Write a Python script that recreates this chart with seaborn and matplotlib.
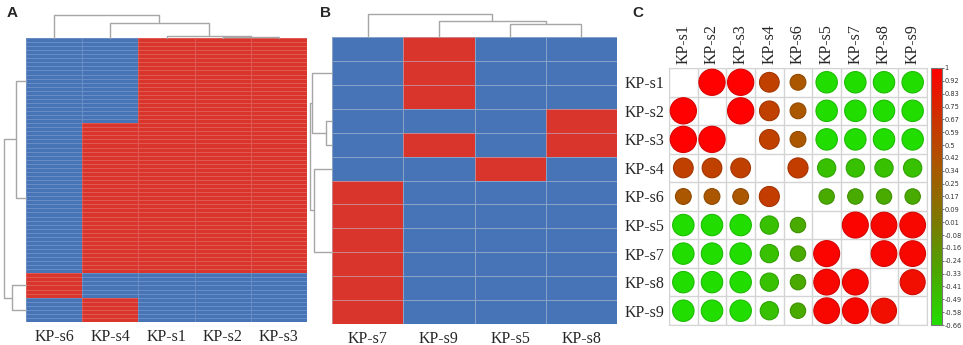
import numpy as np
import pandas as pd
import matplotlib.pyplot as plt
import seaborn as sns
from matplotlib.colors import ListedColormap, LinearSegmentedColormap, Normalize
from matplotlib.cm import ScalarMappable

sns.set_style('white')
plt.rcParams['font.family'] = ['Liberation Serif', 'DejaVu Serif']

# Panel A: binary presence matrix, rows grouped by identical pattern
a_cols = ['KP-s6', 'KP-s4', 'KP-s1', 'KP-s2', 'KP-s3']
a_group_rows = [[0, 0, 1, 1, 1],
                [0, 1, 1, 1, 1],
                [1, 0, 0, 0, 0],
                [0, 1, 0, 0, 0]]
a_group_sizes = [21, 37, 6, 6]
# dendrograms as nested (left, right, height)
a_col_tree = (0, (1, (2, (3, 4, 0.3), 0.6), 5.2), 8.0)
a_row_tree = ((0, 1, 1.0), (2, 3, 1.41), 2.24)

# Panel B
b_cols = ['KP-s7', 'KP-s9', 'KP-s5', 'KP-s8']
b_group_rows = [[0, 1, 0, 0],
                [0, 0, 0, 1],
                [0, 1, 0, 1],
                [0, 0, 1, 0],
                [1, 0, 0, 0]]
b_group_sizes = [3, 1, 1, 1, 6]
b_col_tree = (0, (1, (2, 3, 1.73), 2.24), 3.16)
b_row_tree = ((0, (1, 2, 0.5), 1.57), (3, 4, 1.4), 1.73)

# Panel C: correlation matrix
c_labels = ['KP-s1', 'KP-s2', 'KP-s3', 'KP-s4', 'KP-s6', 'KP-s5', 'KP-s7', 'KP-s8', 'KP-s9']
c_corr = [
    [1.00, 0.99, 0.99, 0.56, 0.36, -0.66, -0.66, -0.66, -0.66],
    [0.99, 1.00, 0.99, 0.56, 0.36, -0.66, -0.66, -0.66, -0.66],
    [0.99, 0.99, 1.00, 0.56, 0.36, -0.66, -0.66, -0.66, -0.66],
    [0.56, 0.56, 0.56, 1.00, 0.58, -0.48, -0.48, -0.48, -0.48],
    [0.36, 0.36, 0.36, 0.58, 1.00, -0.34, -0.34, -0.34, -0.34],
    [-0.66, -0.66, -0.66, -0.48, -0.34, 1.00, 0.97, 0.95, 0.95],
    [-0.66, -0.66, -0.66, -0.48, -0.34, 0.97, 1.00, 0.95, 0.95],
    [-0.66, -0.66, -0.66, -0.48, -0.34, 0.95, 0.95, 1.00, 0.90],
    [-0.66, -0.66, -0.66, -0.48, -0.34, 0.95, 0.95, 0.90, 1.00],
]
cbar_labels = ['-0.66', '-0.58', '-0.49', '-0.41', '-0.33', '-0.24', '-0.16', '-0.08',
               '0.01', '0.09', '0.17', '0.25', '0.34', '0.42', '0.5', '0.59', '0.67',
               '0.75', '0.83', '0.92', '1']

blue = '#4674b6'
red = '#d9352c'
dendro_color = '#a6a6a6'
W, H = 963, 345

fig = plt.figure(figsize=(W / 100, H / 100), dpi=100)


def rect(x0, y0, x1, y1):
    # pixel box (top-left origin) -> figure fraction
    return [x0 / W, 1 - y1 / H, (x1 - x0) / W, (y1 - y0) / H]


def draw_tree(ax, node, leaf_pos, top):
    if not isinstance(node, tuple):
        return leaf_pos[node], 0.0
    left, right, h = node
    pl, hl = draw_tree(ax, left, leaf_pos, top)
    pr, hr = draw_tree(ax, right, leaf_pos, top)
    p = [pl, pl, pr, pr]
    q = [hl, h, h, hr]
    if top:
        ax.plot(p, q, color=dendro_color, lw=1, clip_on=False)
    else:
        ax.plot(q, p, color=dendro_color, lw=1, clip_on=False)
    return (pl + pr) / 2, h


def clustered_heatmap(box, cols, group_rows, group_sizes, col_tree, row_tree,
                      lw, lc, dendro_w=22, dendro_h=23):
    x0, y0, x1, y1 = box
    data = pd.DataFrame(np.repeat(np.array(group_rows), group_sizes, axis=0), columns=cols)
    n_rows = len(data)
    ax = fig.add_axes(rect(x0, y0, x1, y1))
    sns.heatmap(data, ax=ax, cmap=ListedColormap([blue, red]), vmin=0, vmax=1,
                cbar=False, linewidths=lw, linecolor=lc,
                xticklabels=cols, yticklabels=False)
    ax.tick_params(axis='x', length=0, pad=5, labelsize=11.5, rotation=0)

    # column dendrogram
    axc = fig.add_axes(rect(x0, y0 - dendro_h, x1, y0))
    col_pos = np.arange(len(cols)) + 0.5
    draw_tree(axc, col_tree, col_pos, top=True)
    axc.set_xlim(0, len(cols))
    axc.set_ylim(0, col_tree[2])
    axc.axis('off')

    # row dendrogram
    axr = fig.add_axes(rect(x0 - dendro_w, y0, x0, y1))
    sizes = np.array(group_sizes)
    row_pos = np.cumsum(sizes) - sizes / 2
    draw_tree(axr, row_tree, row_pos, top=False)
    axr.set_xlim(row_tree[2], 0)
    axr.set_ylim(n_rows, 0)
    axr.axis('off')


clustered_heatmap((26, 38, 307, 322), a_cols, a_group_rows, a_group_sizes,
                  a_col_tree, a_row_tree, lw=0.4, lc=(1, 1, 1, 0.18))
clustered_heatmap((332, 37, 617, 324), b_cols, b_group_rows, b_group_sizes,
                  b_col_tree, b_row_tree, lw=0.5, lc=(0.75, 0.78, 0.84, 0.55))

# Panel C: correlation circles
corr = np.array(c_corr)
cmap = LinearSegmentedColormap.from_list('gr', [
    (0.0, '#22dd00'),
    (0.33 / 1.66, '#4aa800'),
    (0.66 / 1.66, '#7a7a00'),
    (1.0 / 1.66, '#a85a00'),
    (1.33 / 1.66, '#cc3300'),
    (1.0, '#ff0000'),
])
norm = Normalize(vmin=-0.66, vmax=1.0)

axc = fig.add_axes(rect(669, 68, 927, 325))
n = len(c_labels)
ii, jj = np.meshgrid(np.arange(n), np.arange(n), indexing='ij')
mask = ii != jj
vals = corr[mask]
colors = cmap(norm(vals))
edges = colors.copy()
edges[:, :3] *= 0.85
axc.scatter(jj[mask], ii[mask], s=np.abs(vals) * 360, c=colors,
            edgecolors=edges, linewidths=0.8, zorder=3)
axc.set_xlim(-0.5, n - 0.5)
axc.set_ylim(n - 0.5, -0.5)
axc.set_xticks(np.arange(n))
axc.set_yticks(np.arange(n))
axc.set_xticklabels(c_labels, rotation=90, fontsize=11.5)
axc.set_yticklabels(c_labels, fontsize=11.5)
axc.xaxis.tick_top()
axc.set_xticks(np.arange(-0.5, n, 1), minor=True)
axc.set_yticks(np.arange(-0.5, n, 1), minor=True)
axc.grid(which='minor', color='#d4d4d4', lw=1)
axc.grid(which='major', visible=False)
axc.tick_params(which='both', length=0, pad=3)
for sp in axc.spines.values():
    sp.set_color('#d4d4d4')

cax = fig.add_axes(rect(931, 68, 942, 325))
cb = fig.colorbar(ScalarMappable(norm=norm, cmap=cmap), cax=cax)
cb.set_ticks(np.linspace(-0.66, 1.0, len(cbar_labels)))
cb.set_ticklabels(cbar_labels)
cb.ax.tick_params(length=1.5, width=0.5, pad=0.5, labelsize=4.8, colors='#333333')
for t in cb.ax.get_yticklabels():
    t.set_family('DejaVu Sans')
cb.outline.set_edgecolor('#777777')
cb.outline.set_linewidth(0.8)

for x, letter in [(7, 'A'), (320, 'B'), (632, 'C')]:
    fig.text(x / W, 1 - 6 / H, letter, va='top', ha='left', fontsize=11,
             fontweight='bold', family='Liberation Sans')

fig.savefig('out.png', dpi=100)
